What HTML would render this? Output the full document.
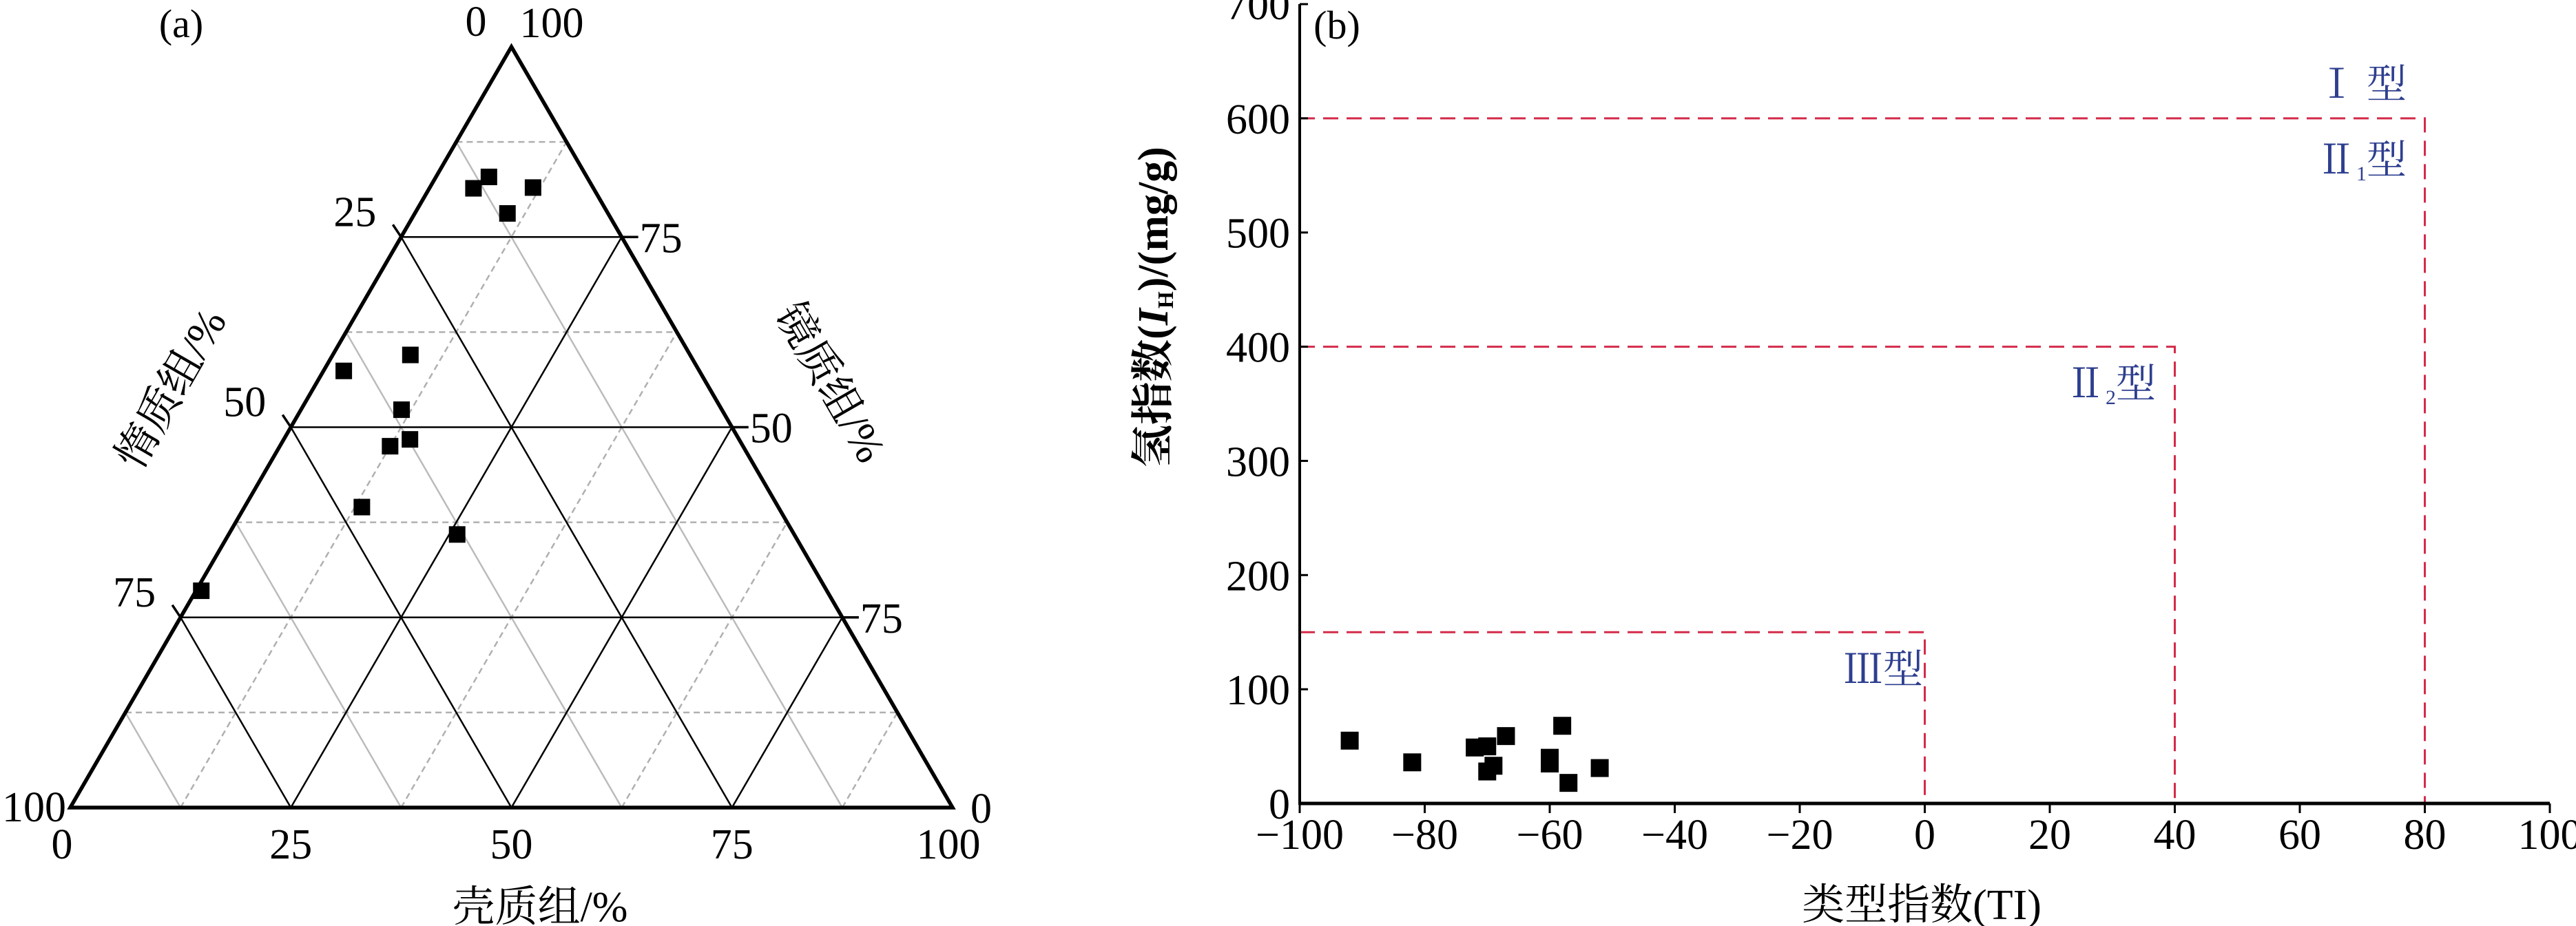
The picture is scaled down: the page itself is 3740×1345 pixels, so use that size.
<!DOCTYPE html>
<html><head><meta charset="utf-8"><style>
body{margin:0;background:#fff}
svg{display:block}
text{font-family:"Liberation Serif","Noto Serif CJK SC",serif;fill:#000}
</style></head><body>
<svg id="chart" width="3740" height="1345" viewBox="0 0 3740 1345" xmlns="http://www.w3.org/2000/svg">
<g id="pa"></g>
<g id="pb"></g>
</svg>
<script>
// ---- Panel (a) ternary data: exinite, vitrinite (%)
const ternExinite = [5, 6, 11.7, 10.5, 8.8, 2.3, 11.4, 14.3, 12.5, 13.3, 25.9, 0.6];
const ternVitrinite = [81.4, 82.9, 81.5, 78.1, 59.5, 57.4, 52.3, 48.4, 47.5, 39.5, 35.9, 28.5];
const ternTicks = [0, 25, 50, 75, 100];
const rightTickLabels = ['0', '75', '50', '75', '100'];
// ---- Panel (b) data
const tiValues = [-92, -82, -72, -70, -69, -70, -67, -58, -60, -60, -52, -57];
const ihValues = [55, 36, 49, 50, 33, 28, 59, 68, 40, 35, 31, 18];
const xTicks = [-100, -80, -60, -40, -20, 0, 20, 40, 60, 80, 100];
const yTicks = [0, 100, 200, 300, 400, 500, 600, 700];
const boundTI = [80, 40, 0];
const boundIH = [600, 400, 150];

const NS = "http://www.w3.org/2000/svg";
function mk(parent, tag, attrs, txt){
  const e = document.createElementNS(NS, tag);
  for (const k in attrs) e.setAttribute(k, attrs[k]);
  if (txt !== undefined) e.textContent = txt;
  parent.appendChild(e);
  return e;
}
// ======= Panel A =======
const pa = document.getElementById('pa');
const BLx = 102, BLy = 1173, L = 1281, H = 1105;
function tern(e, v){
  const ef = e/100, vf = v/100;
  return [BLx + L*(ef + vf/2), BLy - H*vf];
}
function line(g, p, q, stroke, w, dash, name){
  const l = mk(g, 'line', {x1:p[0], y1:p[1], x2:q[0], y2:q[1], stroke:stroke, 'stroke-width':w});
  if (dash) l.setAttribute('stroke-dasharray', dash);
  
  
  return l;
}
[12.5, 37.5, 62.5, 87.5].forEach(k => {
  line(pa, tern(0, k), tern(100-k, k), '#b0b0b0', 2.5, '9,6', 'vitrinite-minor-gridline');
  line(pa, tern(k, 0), tern(k, 100-k), '#b0b0b0', 2.5, '9,6', 'exinite-minor-gridline');
  line(pa, tern(0, 100-k), tern(100-k, 0), '#bbb', 2.5, null, 'inertinite-minor-gridline');
});
[25, 50, 75].forEach(k => {
  line(pa, tern(0, k), tern(100-k, k), '#000', 2.5, null, 'vitrinite-gridline');
  line(pa, tern(k, 0), tern(k, 100-k), '#000', 2.5, null, 'exinite-gridline');
  line(pa, tern(0, 100-k), tern(100-k, 0), '#000', 2.5, null, 'inertinite-gridline');
});
const tri = mk(pa, 'polygon', {points:[tern(0,0), tern(100,0), tern(0,100)].map(p=>p.join(',')).join(' '), fill:'none', stroke:'#000', 'stroke-width':5.5});


const tfs = 62;
ternTicks.forEach((k, idx) => {
  const lp = tern(0, 100-k);
  if (k>0 && k<100) line(pa, lp, [lp[0]-12, lp[1]-18], '#000', 3.5, null, 'left-tick');
  const lt = mk(pa, 'text', {x:lp[0]-(k==100?6:36), y:lp[1]-(k==100?-20:16), 'font-size':tfs, 'text-anchor':'end'}, k);
  
  
  const rp = tern(100-k, k);
  if (k>0 && k<100) line(pa, rp, [rp[0]+24, rp[1]], '#000', 3.5, null, 'right-tick');
  const rt = mk(pa, 'text', {x:rp[0]+(k==100?12:26), y:rp[1]+(k==100?-14:22), 'font-size':tfs, 'text-anchor':'start'}, rightTickLabels[idx]);
  
  
  const bp = tern(k, 0);
  const bt = mk(pa, 'text', {x:bp[0]-(k==0?12:(k==100?6:0)), y:bp[1]+74, 'font-size':tfs, 'text-anchor':'middle'}, k);
  
  
});
let t;
t = mk(pa, 'text', {x:784, y:1338, 'font-size':62, 'text-anchor':'middle'}, '壳质组/%');
 
t = mk(pa, 'text', {x:0, y:0, 'font-size':62, 'text-anchor':'middle', transform:'translate(249,565) rotate(-60) translate(0,20)'}, '惰质组/%');
 
t = mk(pa, 'text', {x:0, y:0, 'font-size':62, 'text-anchor':'middle', transform:'translate(1205,556) rotate(60) translate(0,20)'}, '镜质组/%');
 
t = mk(pa, 'text', {x:263, y:54, 'font-size':58, 'text-anchor':'middle'}, '(a)');
 
ternExinite.forEach((e, i) => {
  const p = tern(e, ternVitrinite[i]);
  const r = mk(pa, 'rect', {x:p[0]-12, y:p[1]-12, width:24, height:24, fill:'#000'});
  
  
});

// ======= Panel B =======
const pb = document.getElementById('pb');
const X0 = 1887, X1 = 3702, Y0 = 1167, Y1 = 6;
const xs = v => X0 + (v + 100) / 200 * (X1 - X0);
const ys = v => Y0 - v / 700 * (Y0 - Y1);
boundTI.forEach((ti, i) => {
  const ih = boundIH[i];
  const p = mk(pb, 'polyline', {points:`${xs(-100)},${ys(ih)} ${xs(ti)},${ys(ih)} ${xs(ti)},${Y0}`, fill:'none', stroke:'#d42a4a', 'stroke-width':3, 'stroke-dasharray':'22,12'});
  
  
});
line(pb, [X0, Y0], [X1, Y0], '#000', 5, null, 'x-axis');
line(pb, [X0, Y0+2], [X0, Y1], '#000', 4, null, 'y-axis');
xTicks.forEach(v => {
  line(pb, [xs(v), Y0], [xs(v), Y0+14], '#000', 3, null, 'x-tick');
  const lb = mk(pb, 'text', {x:xs(v), y:Y0+66, 'font-size':62, 'text-anchor':'middle'}, v < 0 ? '\u2212' + (-v) : v);
  
  
});
yTicks.forEach(v => {
  line(pb, [X0, ys(v)], [X0+12, ys(v)], '#000', 3, null, 'y-tick');
  const lb = mk(pb, 'text', {x:X0-14, y:ys(v)+22, 'font-size':62, 'text-anchor':'end'}, v);
  
  
});
t = mk(pb, 'text', {x:2790, y:1335, 'font-size':62, 'text-anchor':'middle'}, '类型指数(TI)');
 
t = mk(pb, 'text', {x:0, y:0, 'font-size':62, 'font-weight':'bold', 'text-anchor':'middle', transform:'translate(1695,446) rotate(-90)'});
 
mk(t, 'tspan', {}, '氢指数(');
mk(t, 'tspan', {'font-style':'italic'}, 'I');
mk(t, 'tspan', {'font-size':32, dy:8}, 'H');
mk(t, 'tspan', {dy:-8}, ')/(mg/g)');
t = mk(pb, 'text', {x:1941, y:56, 'font-size':58, 'text-anchor':'middle'}, '(b)');
 
const blue = '#2e3f8f';
function typeLabel(x, y, main, sub, name){
  const e = mk(pb, 'text', {x:x, y:y, 'font-size':58, 'text-anchor':'end', fill:blue});
  mk(e, 'tspan', {fill:blue}, main);
  if (sub) mk(e, 'tspan', {fill:blue, 'font-size':30, dy:10}, sub);
  mk(e, 'tspan', {fill:blue, dy: sub ? -10 : 0}, '型');
  
  
}
typeLabel(3494, 142, 'Ⅰ ', '', 'type-i-label');
typeLabel(3494, 252, 'Ⅱ', '1', 'type-ii1-label');
typeLabel(3130, 577, 'Ⅱ', '2', 'type-ii2-label');
typeLabel(2792, 992, 'Ⅲ', '', 'type-iii-label');
tiValues.forEach((v, i) => {
  const r = mk(pb, 'rect', {x:xs(v)-13, y:ys(ihValues[i])-13, width:26, height:26, fill:'#000'});
  
  
});
</script>
</body></html>
